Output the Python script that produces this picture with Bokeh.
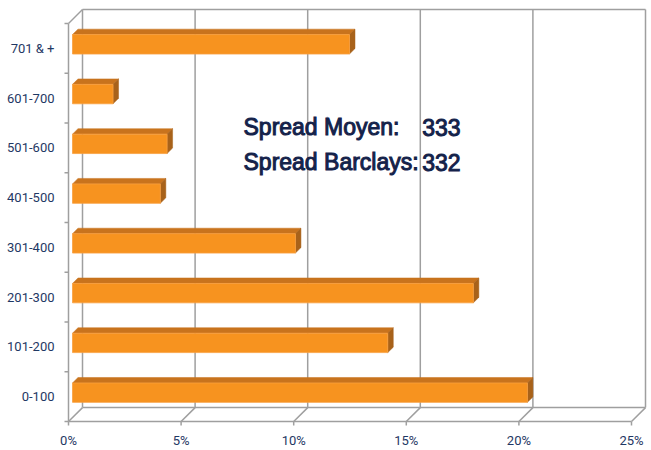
from bokeh.plotting import figure
from bokeh.models import Range1d, FixedTicker
from bokeh.embed import file_html
from bokeh.resources import INLINE
from bokeh.core.properties import value

# ---------------- data ----------------
categories = ["0-100", "101-200", "201-300", "301-400", "401-500", "501-600", "601-700", "701 & +"]
shares = [20.2, 14.0, 17.8, 9.9, 3.9, 4.2, 1.8, 12.3]
x_ticks = [0, 5, 10, 15, 20, 25]
x_tick_labels = ["0%", "5%", "10%", "15%", "20%", "25%"]
annot_labels = ["Spread Moyen:", "Spread Barclays:"]
annot_values = ["333", "332"]

# ---------------- geometry (pixels) ----------------
W, H = 651, 450
FRAME_L, FRAME_R, FRAME_T, FRAME_B = 56, 650, 4, 430
X0_PX, Y0_PX = 68, 423          # front corner of the 3D box
PX_PER_PCT = 22.52
PX_PER_CAT = 50
DEPTH_PX = 14
BAR_FRONT_PX = 4
BAR_DEPTH_PX = 5.5
BAR_HALF = 0.195
TICK_PX = 4

x_start = -(X0_PX - FRAME_L) / PX_PER_PCT
x_end = (FRAME_R - X0_PX) / PX_PER_PCT
y_bot = -0.5
y_top = y_bot + len(categories)
y_start = y_bot - (FRAME_B - Y0_PX) / PX_PER_CAT
y_end = y_bot + (Y0_PX - FRAME_T) / PX_PER_CAT

ddx = DEPTH_PX / PX_PER_PCT
ddy = DEPTH_PX / PX_PER_CAT

p = figure(width=W, height=H, output_backend="svg", toolbar_location=None,
           x_range=Range1d(x_start, x_end), y_range=Range1d(y_start, y_end),
           min_border_left=FRAME_L, min_border_right=W - FRAME_R,
           min_border_top=FRAME_T, min_border_bottom=H - FRAME_B)
p.outline_line_color = None
p.xgrid.visible = False
p.ygrid.visible = False
p.background_fill_color = "white"
p.border_fill_color = "white"

# ---------------- 3D box lines ----------------
x_max = x_ticks[-1]
gx, gy = [], []
for t in x_ticks:
    gx.append([t + ddx, t + ddx]); gy.append([y_bot + ddy, y_top + ddy])   # back wall
    gx.append([t, t + ddx]); gy.append([y_bot, y_bot + ddy])               # floor
    gx.append([t, t]); gy.append([y_bot, y_bot - TICK_PX / PX_PER_CAT])    # x ticks
gx.append([ddx, x_max + ddx]); gy.append([y_top + ddy, y_top + ddy])
gx.append([ddx, x_max + ddx]); gy.append([y_bot + ddy, y_bot + ddy])
gx.append([0, x_max]); gy.append([y_bot, y_bot])
gx.append([0, 0]); gy.append([y_bot, y_top])
gx.append([0, ddx]); gy.append([y_top, y_top + ddy])
for k in range(len(categories) + 1):
    gx.append([-TICK_PX / PX_PER_PCT, 0]); gy.append([y_bot + k, y_bot + k])
p.multi_line(gx, gy, line_color="#9f9f9f", line_width=1.5)

# ---------------- bars ----------------
fx = BAR_FRONT_PX / PX_PER_PCT
fy = BAR_FRONT_PX / PX_PER_CAT
bdx = BAR_DEPTH_PX / PX_PER_PCT
bdy = BAR_DEPTH_PX / PX_PER_CAT
idx = list(range(len(categories)))
bottoms = [i - BAR_HALF + fy for i in idx]
tops = [i + BAR_HALF + fy for i in idx]
rights = [v + fx for v in shares]

top_xs = [[fx, r, r + bdx, fx + bdx] for r in rights]
top_ys = [[t, t, t + bdy, t + bdy] for t in tops]
side_xs = [[r, r + bdx, r + bdx, r] for r in rights]
side_ys = [[b, b + bdy, t + bdy, t] for b, t in zip(bottoms, tops)]

p.patches(top_xs, top_ys, fill_color="#C8731D", line_color="#C8731D", line_width=0.5)
p.patches(side_xs, side_ys, fill_color="#A8621A", line_color="#A8621A", line_width=0.5)
p.quad(left=[fx] * len(shares), right=rights, bottom=bottoms, top=tops,
       fill_color="#F7931F", line_color="#F9A040", line_width=0.8)

# ---------------- annotation ----------------
LBL_X_PX, VAL_X_PX = 243, 421.7
BASE_PX = [127.3, 162.7]
ann_y = [y_bot + (Y0_PX - b) / PX_PER_CAT for b in BASE_PX]
lx = (LBL_X_PX - X0_PX) / PX_PER_PCT
vx = (VAL_X_PX - X0_PX) / PX_PER_PCT
txt = p.text(x=[lx] * 2 + [vx] * 2, y=ann_y + ann_y, text=annot_labels + annot_values,
             text_font=value("Liberation Sans"), text_font_size="23px",
             text_color="#14224A", text_baseline="alphabetic", text_align="left")
try:
    txt.glyph.text_outline_color = "#14224A"
except Exception:
    pass

# ---------------- axes ----------------
for ax in (p.xaxis[0], p.yaxis[0]):
    ax.axis_line_color = None
    ax.major_tick_line_color = None
    ax.minor_tick_line_color = None
    ax.major_tick_out = 0
    ax.major_tick_in = 0
    ax.major_label_text_font = "Roboto"
    ax.major_label_text_font_size = "13px"
    ax.major_label_text_color = "#1F3864"

p.xaxis.ticker = FixedTicker(ticks=x_ticks)
p.xaxis.major_label_overrides = {t: s for t, s in zip(x_ticks, x_tick_labels)}
p.xaxis.major_label_standoff = 4
p.yaxis.ticker = FixedTicker(ticks=idx)
p.yaxis.major_label_overrides = {i: c for i, c in zip(idx, categories)}
p.yaxis.major_label_standoff = 2

open("out.html", "w").write(file_html(p, INLINE))
